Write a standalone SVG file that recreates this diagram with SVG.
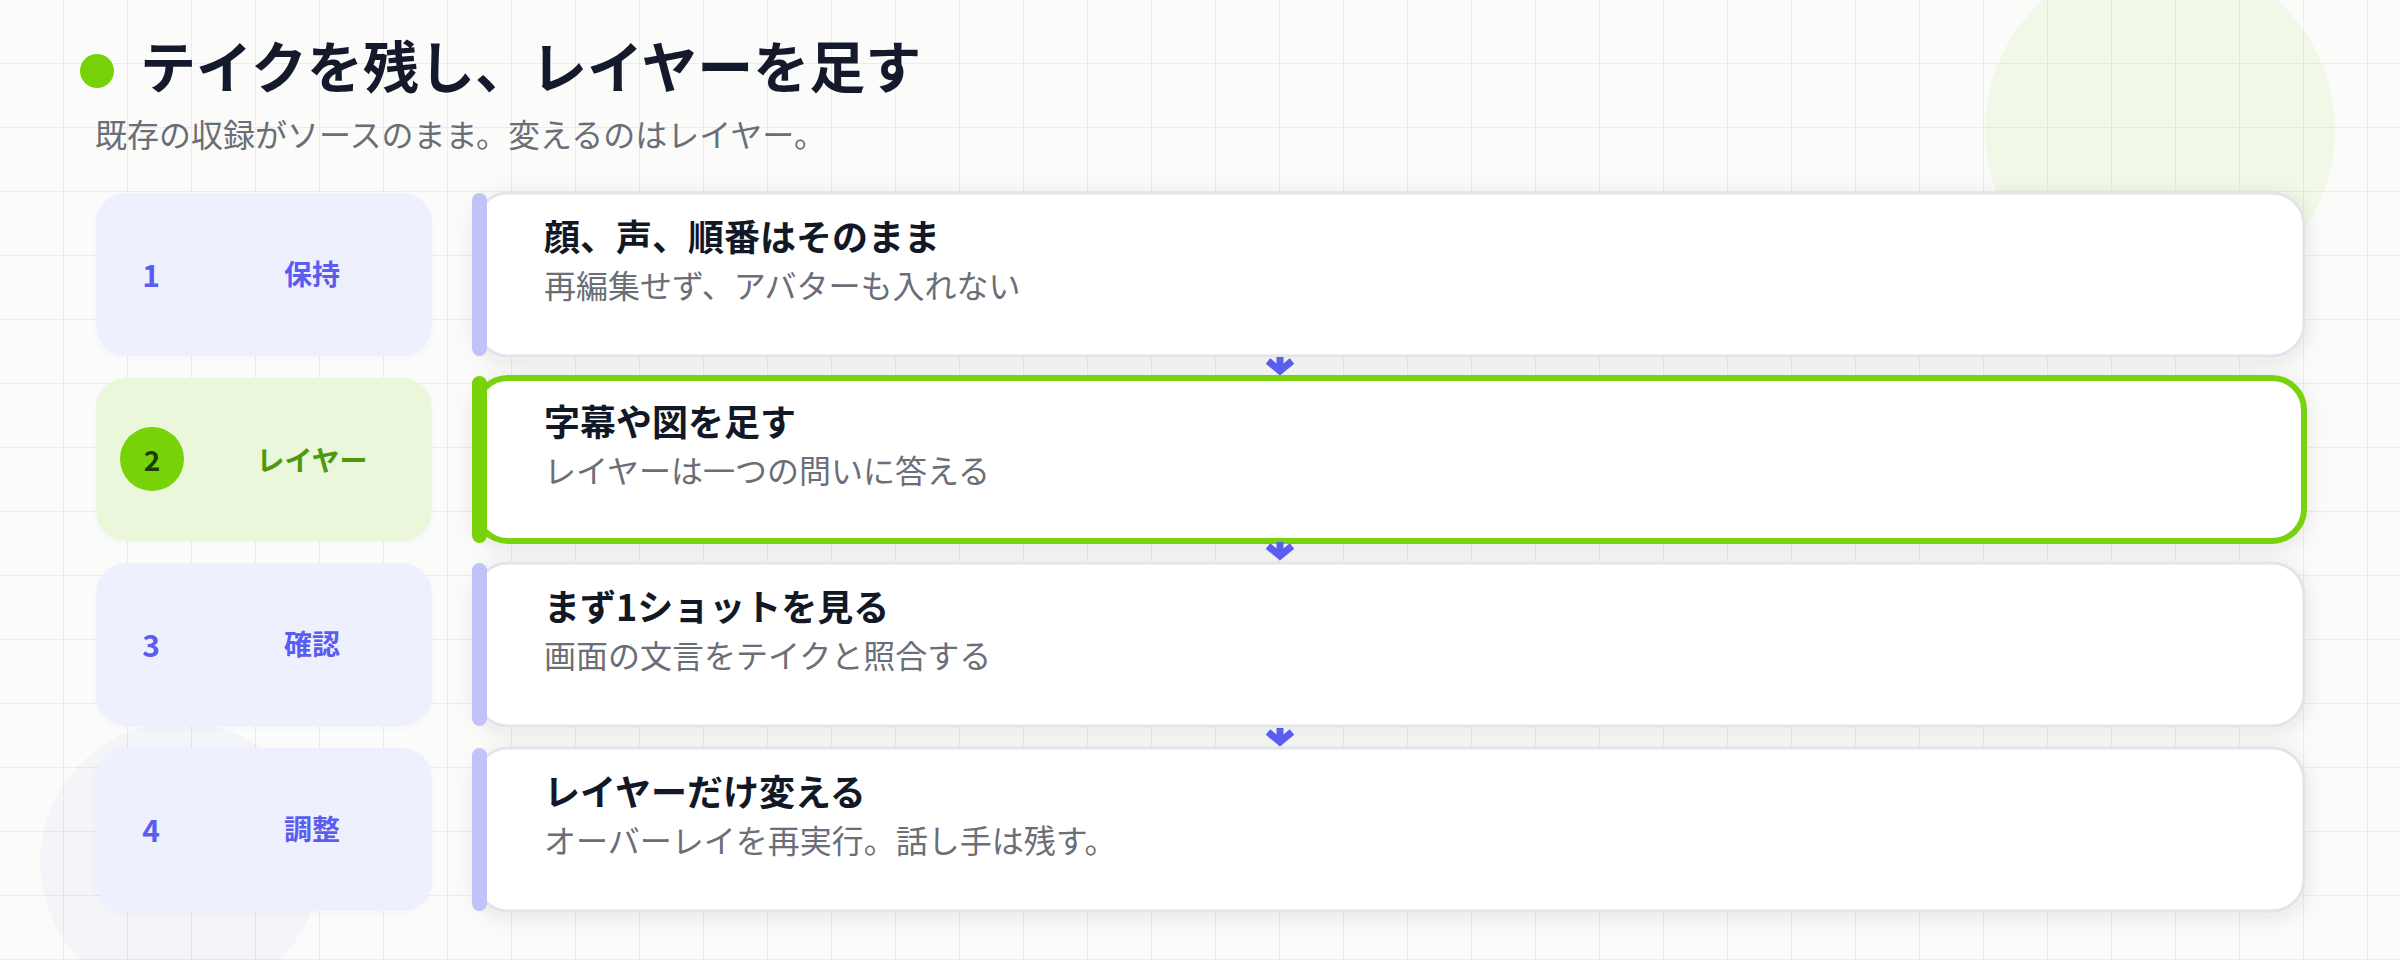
<svg xmlns="http://www.w3.org/2000/svg" width="2400" height="960" viewBox="0 0 2400 960">
  <defs>
    <pattern id="grid" width="64" height="64" patternUnits="userSpaceOnUse">
      <path d="M64 0 V64 M0 64 H64" fill="none" stroke="#e6e9e4" stroke-width="1.5"/>
    </pattern>
    <filter id="shadow" x="-5%" y="-30%" width="110%" height="160%">
      <feDropShadow dx="0" dy="4" stdDeviation="10" flood-color="#1f2937" flood-opacity="0.10"/>
    </filter>
    <filter id="soft" x="-10%" y="-10%" width="120%" height="120%">
      <feDropShadow dx="0" dy="2" stdDeviation="3" flood-color="#6366f1" flood-opacity="0.04"/>
    </filter>
  </defs>
  <style>
    text { font-family: "Noto Sans CJK JP", "Noto Sans", "Liberation Sans", sans-serif; }
    .title { font-size: 56px; font-weight: 700; fill: #141a2c; }
    .sub { font-size: 32px; fill: #6b6e76; }
    .box { fill: #eef0fe; }
    .box.on { fill: #eaf7da; }
    .num { font-size: 30px; font-weight: 700; fill: #5b5cf0; text-anchor: middle; }
    .lab { font-size: 28px; font-weight: 700; fill: #5b5cf0; text-anchor: middle; }
    .lab.on { fill: #4f9a0c; }
    .num.on { fill: #1d3d06; font-size: 28px; }
    .card { fill: #ffffff; stroke: #e2e4ec; stroke-width: 3; }
    .card.on { stroke: #78d208; stroke-width: 6; }
    .accent { fill: #c0c2f8; }
    .accent.on { fill: #78d208; }
    .ct { font-size: 36px; font-weight: 700; fill: #121826; }
    .cs { font-size: 32px; fill: #6b6e76; }
    .arrow { fill: none; stroke: #5b5cf0; stroke-width: 7; stroke-linejoin: miter; }
  </style>

  <rect x="0" y="0" width="2400" height="960" fill="#fbfcfa"/>
  <rect x="0" y="0" width="2400" height="960" fill="url(#grid)"/>
  <circle cx="2160" cy="130" r="175" fill="#84cc16" fill-opacity="0.08"/>
  <circle cx="180" cy="862" r="140" fill="#6366f1" fill-opacity="0.045"/>

  <g id="header">
    <circle cx="97" cy="71" r="17" fill="#78d208"/>
    <text class="title" x="140" y="88">テイクを残し、レイヤーを足す</text>
    <text class="sub" x="95" y="147">既存の収録がソースのまま。変えるのはレイヤー。</text>
  </g>

  <g id="step1">
    <rect class="box" x="96" y="193" width="336" height="163" rx="30" filter="url(#soft)"/>
    <text class="num" x="151" y="287">1</text>
    <text class="lab" x="312" y="285">保持</text>
  </g>
  <g id="step2">
    <rect class="box on" x="96" y="378" width="336" height="163" rx="30" filter="url(#soft)"/>
    <circle cx="152" cy="459" r="32" fill="#78d208"/>
    <text class="num on" x="152" y="471">2</text>
    <text class="lab on" x="312" y="471">レイヤー</text>
  </g>
  <g id="step3">
    <rect class="box" x="96" y="563" width="336" height="163" rx="30" filter="url(#soft)"/>
    <text class="num" x="151" y="657">3</text>
    <text class="lab" x="312" y="655">確認</text>
  </g>
  <g id="step4">
    <rect class="box" x="96" y="748" width="336" height="163" rx="30" filter="url(#soft)"/>
    <text class="num" x="151" y="842">4</text>
    <text class="lab" x="312" y="840">調整</text>
  </g>

  <g id="card1">
    <rect class="card" x="476" y="193" width="1828" height="163" rx="32" filter="url(#shadow)"/>
    <rect class="accent" x="472" y="193" width="15" height="163" rx="7.5"/>
    <text class="ct" x="544" y="251">顔、声、順番はそのまま</text>
    <text class="cs" x="544" y="298">再編集せず、アバターも入れない</text>
  </g>
  <g id="card2">
    <rect class="card on" x="476" y="378" width="1828" height="163" rx="32" filter="url(#shadow)"/>
    <rect class="accent on" x="472" y="376" width="15" height="167" rx="7.5"/>
    <text class="ct" x="544" y="436">字幕や図を足す</text>
    <text class="cs" x="544" y="483">レイヤーは一つの問いに答える</text>
  </g>
  <g id="card3">
    <rect class="card" x="476" y="563" width="1828" height="163" rx="32" filter="url(#shadow)"/>
    <rect class="accent" x="472" y="563" width="15" height="163" rx="7.5"/>
    <text class="ct" x="544" y="621">まず1ショットを見る</text>
    <text class="cs" x="544" y="668">画面の文言をテイクと照合する</text>
  </g>
  <g id="card4">
    <rect class="card" x="476" y="748" width="1828" height="163" rx="32" filter="url(#shadow)"/>
    <rect class="accent" x="472" y="748" width="15" height="163" rx="7.5"/>
    <text class="ct" x="544" y="806">レイヤーだけ変える</text>
    <text class="cs" x="544" y="853">オーバーレイを再実行。話し手は残す。</text>
  </g>

  <g id="connectors">
    <path class="arrow" d="M1280 357 V371 M1268 361 L1280 371 L1292 361"/>
    <path class="arrow" d="M1280 542 V556 M1268 546 L1280 556 L1292 546"/>
    <path class="arrow" d="M1280 728 V742 M1268 732 L1280 742 L1292 732"/>
  </g>
</svg>
